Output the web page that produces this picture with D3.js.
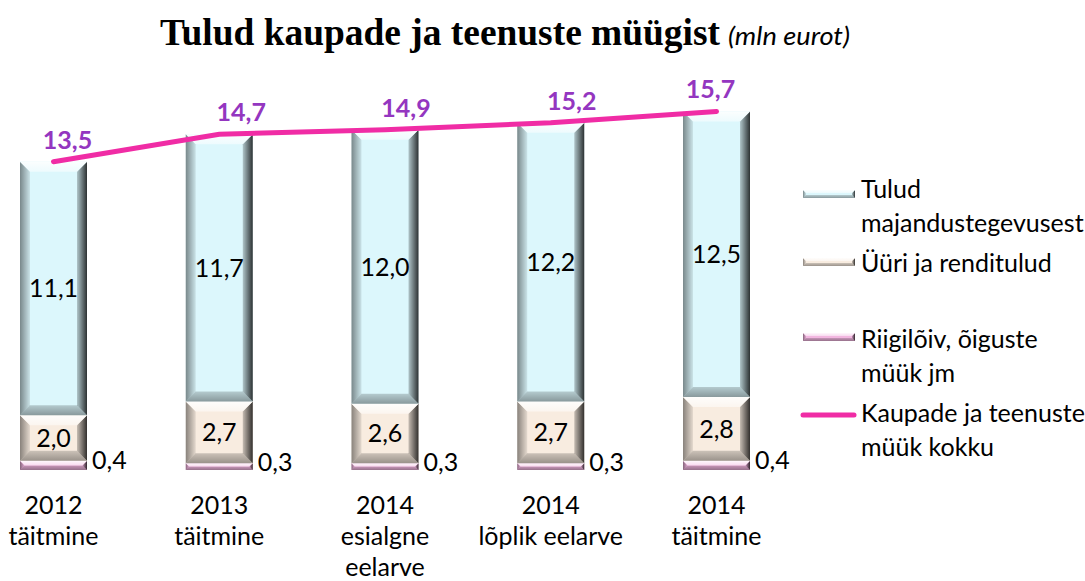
<!DOCTYPE html>
<html>
<head>
<meta charset="utf-8">
<script src="https://cdn.jsdelivr.net/npm/d3@7"></script>
<style>
  body { margin: 0; background: #fff; }
  text { font-family: Lato, "Liberation Sans", sans-serif; }
</style>
</head>
<body>
<svg id="chart" width="1085" height="581"></svg>
<script>
// values (mln eurot)
const categories = ["2012\ntäitmine", "2013\ntäitmine", "2014\nesialgne\neelarve", "2014\nlõplik eelarve", "2014\ntäitmine"];
const tulud = [11.1, 11.7, 12.0, 12.2, 12.5];       // Tulud majandustegevusest
const renditulud = [2.0, 2.7, 2.6, 2.7, 2.8];       // Üüri ja renditulud
const riigiloiv = [0.4, 0.3, 0.3, 0.3, 0.4];        // Riigilõiv, õiguste müük jm
const kokku = [13.5, 14.7, 14.9, 15.2, 15.7];       // Kaupade ja teenuste müük kokku

const seriesNames = ["Tulud\nmajandustegevusest", "Üüri ja renditulud", "Riigilõiv, õiguste\nmüük jm", "Kaupade ja teenuste\nmüük kokku"];

const colors = {tulud: "#dcf7fc", rent: "#f8ece0", riik: "#f2b6e0", line: "#f02ca5", total: "#9436c0"};

const svg = d3.select("#chart");
const defs = svg.append("defs");

const fmt = d3.formatLocale({decimal: ",", thousands: " ", grouping: [3], currency: ["", "€"]}).format(".1f");

let canvas = {barWidth: 67, baseline: 470, top: 58.9};

let xScale = d3.scalePoint()
  .domain(categories)
  .range([53.5, 716.5]);

let yScale = d3.scaleLinear()
  .domain([0, 18])
  .range([canvas.baseline, canvas.top]);

// gradients for bevel sides
function grad(id, x1, y1, x2, y2, stops) {
  let g = defs.append("linearGradient").attr("id", id)
    .attr("x1", x1).attr("y1", y1).attr("x2", x2).attr("y2", y2);
  stops.forEach(s => g.append("stop").attr("offset", s[0]).attr("stop-color", s[1]).attr("stop-opacity", s[2]));
}
grad("bev-left", 0, 0, 1, 0, [[0, "#000", 0.45], [1, "#000", 0.08]]);
grad("bev-right", 0, 0, 1, 0, [[0, "#000", 0.2], [1, "#000", 0.8]]);
grad("bev-top", 0, 0, 0, 1, [[0, "#fff", 0.9], [1, "#fff", 0.5]]);
grad("bev-bottom", 0, 0, 0, 1, [[0, "#000", 0.18], [1, "#000", 0.38]]);

// draw a bevelled rectangle
function bevelRect(g, x, y, w, h, fill, b) {
  b = Math.min(b, h / 2, w / 2);
  g.append("rect").attr("x", x).attr("y", y).attr("width", w).attr("height", h).attr("fill", fill);
  let pts = {
    top: [[x, y], [x + w, y], [x + w - b, y + b], [x + b, y + b]],
    bottom: [[x, y + h], [x + w, y + h], [x + w - b, y + h - b], [x + b, y + h - b]],
    left: [[x, y], [x + b, y + b], [x + b, y + h - b], [x, y + h]],
    right: [[x + w, y], [x + w - b, y + b], [x + w - b, y + h - b], [x + w, y + h]]
  };
  for (let side of ["left", "right", "bottom", "top"]) {
    g.append("polygon")
      .attr("points", pts[side].map(p => p.join(",")).join(" "))
      .attr("fill", `url(#bev-${side})`);
  }
}

// stacked data, bottom to top
let stacks = categories.map((c, i) => {
  let y0 = 0;
  return [[riigiloiv[i], colors.riik], [renditulud[i], colors.rent], [tulud[i], colors.tulud]].map(([v, col], k) => {
    let seg = {cat: c, v: v, y0: y0, y1: y0 + v, fill: col, k: k};
    y0 += v;
    return seg;
  });
});

let bars = svg.append("g");
stacks.forEach(stack => {
  stack.forEach(s => {
    let x = xScale(s.cat) - canvas.barWidth / 2;
    let y = yScale(s.y1);
    let h = yScale(s.y0) - yScale(s.y1);
    bevelRect(bars, x, y, canvas.barWidth, h, s.fill, 10);
  });
});

// segment labels
stacks.forEach(stack => {
  stack.forEach(s => {
    let cx = xScale(s.cat);
    if (s.k === 0) {
      bars.append("text")
        .attr("x", cx + canvas.barWidth / 2 + 5)
        .attr("y", yScale(s.y1) + 8)
        .attr("font-size", 25)
        .attr("fill", "#000")
        .text(fmt(s.v));
    } else {
      bars.append("text")
        .attr("x", cx)
        .attr("y", (yScale(s.y0) + yScale(s.y1)) / 2 + 9)
        .attr("text-anchor", "middle")
        .attr("font-size", 25)
        .attr("fill", "#000")
        .text(fmt(s.v));
    }
  });
});

// total line
let line = d3.line()
  .x((d, i) => xScale(categories[i]))
  .y(d => yScale(d));

svg.append("path")
  .datum(kokku)
  .attr("d", line)
  .attr("fill", "none")
  .attr("stroke", colors.line)
  .attr("stroke-width", 5)
  .attr("stroke-linecap", "round");

// total labels (hand-placed in the original)
const totalShift = [14, 22, 21, 21, -6];
svg.selectAll(".total")
  .data(kokku)
  .join("text")
  .attr("class", "total")
  .attr("x", (d, i) => xScale(categories[i]) + totalShift[i])
  .attr("y", d => yScale(d) - 13)
  .attr("text-anchor", "middle")
  .attr("font-size", 25)
  .attr("font-weight", "bold")
  .attr("fill", colors.total)
  .text(d => fmt(d));

// category labels
svg.selectAll(".cat")
  .data(categories)
  .join("text")
  .attr("class", "cat")
  .attr("text-anchor", "middle")
  .attr("font-size", 25)
  .attr("fill", "#000")
  .each(function(d) {
    let t = d3.select(this);
    d.split("\n").forEach((ln, j) => {
      t.append("tspan").attr("x", xScale(d)).attr("y", 514 + j * 31).text(ln);
    });
  });

// title
svg.append("text")
  .attr("x", 160)
  .attr("y", 45)
  .style("font-family", "'Liberation Serif', 'Times New Roman', serif")
  .attr("font-size", 38)
  .attr("font-weight", "bold")
  .attr("textLength", 560)
  .attr("lengthAdjust", "spacingAndGlyphs")
  .text("Tulud kaupade ja teenuste müügist");

svg.append("text")
  .attr("x", 728)
  .attr("y", 45)
  .attr("font-size", 25)
  .attr("font-style", "italic")
  .attr("textLength", 122)
  .attr("lengthAdjust", "spacingAndGlyphs")
  .text("(mln eurot)");

// legend
let legend = svg.append("g");
let legendRows = [
  {name: seriesNames[0], fill: colors.tulud, sy: 190, ty: 198},
  {name: seriesNames[1], fill: colors.rent, sy: 258, ty: 272},
  {name: seriesNames[2], fill: colors.riik, sy: 333, ty: 348},
  {name: seriesNames[3], line: true, sy: 415, ty: 422}
];
legendRows.forEach(r => {
  if (r.line) {
    legend.append("line")
      .attr("x1", 803).attr("x2", 854)
      .attr("y1", r.sy).attr("y2", r.sy)
      .attr("stroke", colors.line)
      .attr("stroke-width", 5)
      .attr("stroke-linecap", "round");
  } else {
    bevelRect(legend, 803, r.sy, 52, 8, r.fill, 3);
  }
  let t = legend.append("text").attr("font-size", 25).attr("fill", "#000");
  r.name.split("\n").forEach((ln, j) => {
    t.append("tspan").attr("x", 861).attr("y", r.ty + j * 34).text(ln);
  });
});
</script>
</body>
</html>
